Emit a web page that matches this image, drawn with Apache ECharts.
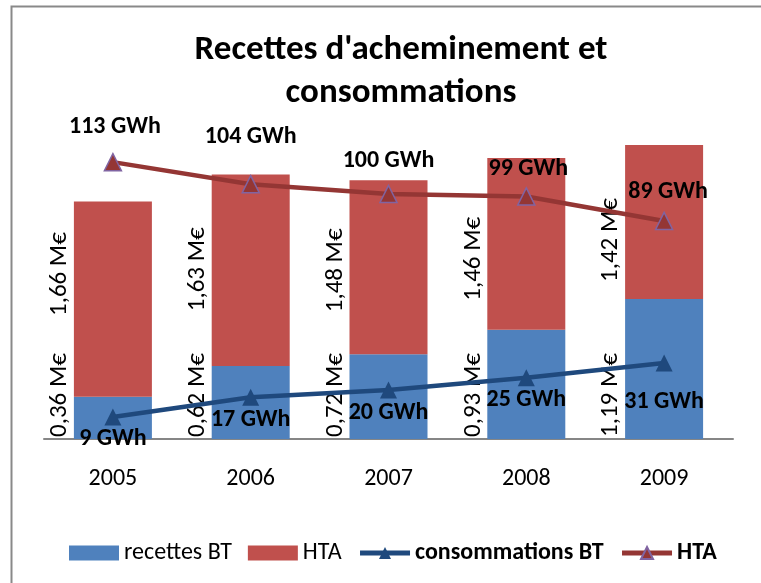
<!DOCTYPE html>
<html>
<head>
<meta charset="utf-8">
<script src="https://cdn.jsdelivr.net/npm/echarts@6/dist/echarts.min.js"></script>
<style>
html, body { margin: 0; padding: 0; background: #fff; }
#chart { width: 761px; height: 583px; }
</style>
</head>
<body>
<div id="chart"></div>
<script>
// données
const years = ['2005', '2006', '2007', '2008', '2009'];
const recettesBT = [0.36, 0.62, 0.72, 0.93, 1.19];   // M€
const recettesHTA = [1.66, 1.63, 1.48, 1.46, 1.42];  // M€
const consoBT = [9, 17, 20, 25, 31];                 // GWh
const consoHTA = [113, 104, 100, 99, 89];            // GWh

// petits décalages des étiquettes (placées à la main dans l'original)
const htaBarLabelUp = [25, 1, -3, -15, -18];
const htaLineLabelNudge = [[2, -2], [0, -14], [0, 0], [2, 6], [4, 4]];
const btLineLabelNudge = [[0, 0], [0, 0], [0, 0], [0, 0], [0, 16]];

const font = 'Carlito, Lato, sans-serif';
const euro = v => v.toFixed(2).replace('.', ',') + ' M€';

const chart = echarts.init(document.getElementById('chart'));

const option = {
  animation: false,
  textStyle: { fontFamily: font },
  title: {
    text: "Recettes d'acheminement et\nconsommations",
    left: 396,
    textAlign: 'center',
    top: 24,
    textStyle: { fontFamily: font, fontSize: 35, fontWeight: 'bold', color: '#000', lineHeight: 43 }
  },
  legend: {
    left: 64,
    top: 536,
    itemWidth: 50,
    itemHeight: 15,
    itemGap: 16,
    formatter: n => n.trim(),
    textStyle: { fontFamily: font, fontSize: 24, color: '#000' },
    data: [
      { name: 'recettes BT', icon: 'rect' },
      { name: 'HTA', icon: 'rect' },
      { name: 'consommations BT', textStyle: { fontWeight: 'bold' }, lineStyle: { width: 5 } },
      { name: 'HTA ', textStyle: { fontWeight: 'bold' }, lineStyle: { width: 5 } }
    ]
  },
  graphic: [{
    type: 'rect',
    left: 9, top: 4,
    shape: { width: 800, height: 700 },
    style: { fill: 'none', stroke: '#898989', lineWidth: 2 },
    silent: true
  }],
  grid: { left: 44, right: 28, top: 145, bottom: 144 },
  xAxis: {
    type: 'category',
    data: years,
    axisLine: { lineStyle: { color: '#868686', width: 2 } },
    axisTick: { show: false },
    axisLabel: { color: '#000', fontSize: 24, fontFamily: font, margin: 28 }
  },
  yAxis: [
    { type: 'value', min: 0, max: 2.5, show: false, splitLine: { show: false } },
    { type: 'value', min: 0, max: 120, show: false, splitLine: { show: false } }
  ],
  series: [
    {
      name: 'recettes BT',
      type: 'bar',
      stack: 'r',
      barWidth: 78,
      clip: true,
      itemStyle: { color: '#4F81BD' },
      label: {
        show: true,
        position: 'insideBottom',
        distance: 2,
        rotate: 90,
        align: 'left',
        verticalAlign: 'middle',
        offset: [0, -53],
        fontFamily: font,
        fontSize: 25,
        color: '#000',
        formatter: p => euro(p.value)
      },
      data: recettesBT
    },
    {
      name: 'HTA',
      type: 'bar',
      stack: 'r',
      barWidth: 78,
      clip: true,
      itemStyle: { color: '#C0504D' },
      label: {
        show: true,
        position: 'inside',
        rotate: 90,
        align: 'center',
        verticalAlign: 'middle',
        fontFamily: font,
        fontSize: 25,
        color: '#000',
        formatter: p => euro(p.value)
      },
      data: recettesHTA.map((v, i) => ({ value: v, label: { offset: [htaBarLabelUp[i], -53] } }))
    },
    {
      name: 'consommations BT',
      type: 'line',
      yAxisIndex: 1,
      symbol: 'triangle',
      symbolSize: 17,
      z: 5,
      lineStyle: { color: '#1F497D', width: 4.5 },
      itemStyle: { color: '#1F497D' },
      label: {
        show: true,
        position: 'bottom',
        distance: 2,
        fontFamily: font,
        fontSize: 24,
        fontWeight: 'bold',
        color: '#000',
        formatter: p => p.value + ' GWh'
      },
      data: consoBT.map((v, i) => ({ value: v, label: { offset: btLineLabelNudge[i] } }))
    },
    {
      name: 'HTA ',
      type: 'line',
      yAxisIndex: 1,
      symbol: 'triangle',
      symbolSize: 17,
      z: 5,
      lineStyle: { color: '#943634', width: 4.5 },
      itemStyle: { color: '#943634', borderColor: '#8064A2', borderWidth: 1.5 },
      label: {
        show: true,
        position: 'top',
        distance: 12,
        fontFamily: font,
        fontSize: 24,
        fontWeight: 'bold',
        color: '#000',
        formatter: p => p.value + ' GWh'
      },
      data: consoHTA.map((v, i) => ({ value: v, label: { offset: htaLineLabelNudge[i] } }))
    }
  ]
};

chart.setOption(option);
</script>
</body>
</html>
